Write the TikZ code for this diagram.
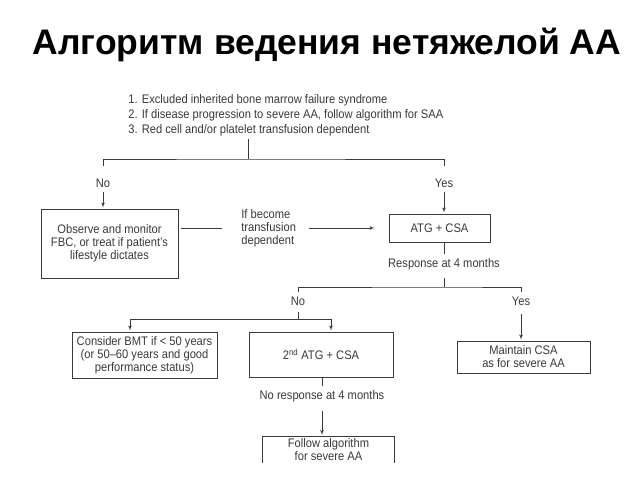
\documentclass[tikz,border=0pt]{standalone}
\usepackage{fontspec}
\setmainfont{Liberation Sans}
\newfontfamily\narrowfont[FakeStretch=0.9,Ligatures=TeX]{Liberation Sans}
\usetikzlibrary{arrows,positioning}
\tikzset{every picture/.style={
  >=latex'                      % LaTeX style arrows.
  }
}
\definecolor{ink}{HTML}{3A3A3A}
\newcommand\bodyfont{\narrowfont\fontsize{12.4}{13}\selectfont}

\begin{document}
\begin{tikzpicture}[
    x=1pt, y=-1pt,
    color=ink,
    line width=0.75pt,
    box/.style={
      draw,
      align=center,
      inner sep=0pt,
      font=\bodyfont
    },
    lbl/.style={
      align=center,
      inner sep=0pt,
      font=\bodyfont
    }]

    \useasboundingbox[fill=white] (0,0) rectangle (640,480);

    % Helper macro: branch from a junction down to two labels.
    \def\fork#1#2#3#4{ \draw ([yshift=#4] #2.north) |- (#1) -|
        ([yshift=#4] #3.north) }

    % Title and the entry criteria.
    \node[text=black,font=\fontsize{35.5}{40}\bfseries\selectfont] (title)
      at (327,45) {Алгоритм ведения нетяжелой АА};
    \node[lbl,align=left,anchor=west,
      font=\narrowfont\fontsize{12.4}{15}\selectfont]
      (crit) at (128,115) {1. Excluded inherited bone marrow failure syndrome\\
      2. If disease progression to severe AA, follow algorithm for SAA\\
      3. Red cell and/or platelet transfusion dependent};

    % First decision.
    \coordinate (t0) at (248,139);
    \coordinate (j1) at (248,159);
    \node[lbl] (no1) at (103,183) {No};
    \node[lbl] (yes1) at (444,183) {Yes};
    \node[box,minimum width=137,minimum height=69] (observe) at (109.5,243.5)
      {Observe and monitor\\FBC, or treat if patient's\\lifestyle dictates};
    \node[box,minimum width=101,minimum height=28] (atg) at (439.5,228)
      {ATG + CSA};
    \node[lbl,align=left,anchor=west] (become) at (241,228)
      {If become\\transfusion\\dependent};

    \draw (t0) -- (j1);
    \fork{j1}{no1}{yes1}{12pt};
    \draw[->,shorten <=4pt,shorten >=1pt] (no1) -- (no1 |- observe.north);
    \draw[->,shorten <=4pt,shorten >=1pt] (yes1) -- (yes1 |- atg.north);
    \draw[shorten <=3pt,shorten >=19pt] (observe.east |- become.west) --
      (become.west);
    \draw[->,shorten <=13pt,shorten >=14pt] (become.east |- atg.west) --
      (atg.west);

    % Response to the first course.
    \node[lbl] (resp) at (444,264) {Response at 4 months};
    \coordinate (j2) at (444,287);
    \node[lbl] (no2) at (298,301) {No};
    \node[lbl] (yes2) at (521,301) {Yes};
    \draw (atg.south -| resp) -- ([yshift=4pt] resp.north);
    \draw ([yshift=-8pt] resp.south) -- (j2);
    \fork{j2}{no2}{yes2}{4pt};

    \node[box,minimum width=133,minimum height=32] (maintain) at (523.5,357)
      {Maintain CSA\\as for severe AA};
    \draw[->,shorten <=8pt,shorten >=1pt] (yes2) -- (yes2 |- maintain.north);

    % No response: BMT or a second course.
    \coordinate (j3) at (298,319);
    \node[box,minimum width=145,minimum height=46] (bmt) at (144.5,355)
      {Consider BMT if < 50 years\\(or 50–60 years and good\\performance status)};
    \node[box,minimum width=144,minimum height=45] (atg2) at (321,354.5)
      {2\textsuperscript{nd} ATG + CSA};
    \draw[shorten <=6pt] (no2) -- (j3);
    \draw[->,shorten >=1pt] (j3) -| ([xshift=-14.5pt] bmt.north);
    \draw[->,shorten >=1pt] (j3) -| ([xshift=10pt] atg2.north);

    % Second course fails.
    \node[lbl] (noresp) at (322,396) {No response at 4 months};
    \node[lbl,minimum width=131,minimum height=26] (follow) at (328.5,450)
      {Follow algorithm\\for severe AA};
    \draw (atg2.south -| noresp) -- ([yshift=4pt] noresp.north);
    \draw[->,shorten <=9pt,shorten >=1.5pt] (noresp) -- (noresp |- follow.north);
    \draw (follow.south west) -- (follow.north west) -- (follow.north east) --
      (follow.south east);
\end{tikzpicture}
\end{document}
